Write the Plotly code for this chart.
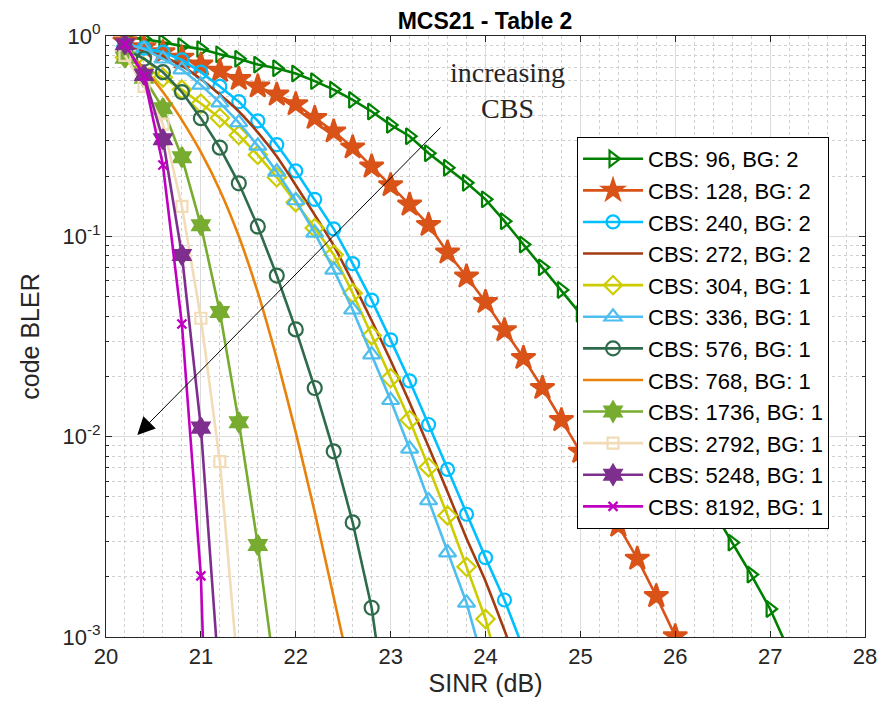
import math
import plotly.graph_objects as go

# ---------------- data ----------------
sinr = [20.2, 20.4, 20.6, 20.8, 21.0, 21.2, 21.4, 21.6, 21.8, 22.0,
        22.2, 22.4, 22.6, 22.8, 23.0, 23.2, 23.4, 23.6, 23.8, 24.0,
        24.2, 24.4, 24.6, 24.8, 25.0, 25.2, 25.4, 25.6, 25.8, 26.0,
        26.2, 26.4, 26.6, 26.8, 27.0, 27.2]

labels = ["CBS: 96, BG: 2", "CBS: 128, BG: 2", "CBS: 240, BG: 2", "CBS: 272, BG: 2",
          "CBS: 304, BG: 1", "CBS: 336, BG: 1", "CBS: 576, BG: 1", "CBS: 768, BG: 1",
          "CBS: 1736, BG: 1", "CBS: 2792, BG: 1", "CBS: 5248, BG: 1", "CBS: 8192, BG: 1"]

bler_96 = [0.99, 0.965, 0.93, 0.89, 0.86, 0.81, 0.77, 0.72, 0.69, 0.65,
           0.595, 0.54, 0.48, 0.42, 0.36, 0.316, 0.26, 0.22, 0.185, 0.153,
           0.119, 0.091, 0.070, 0.054, 0.041, 0.0308, 0.0228, 0.0167, 0.0121, 0.00865,
           0.00612, 0.00428, 0.00296, 0.00205, 0.00138, 0.00085]
bler_128 = [0.94, 0.88, 0.83, 0.78, 0.72, 0.67, 0.61, 0.56, 0.51, 0.457,
            0.39, 0.334, 0.278, 0.223, 0.18, 0.144, 0.114, 0.083, 0.063, 0.047,
            0.034, 0.0247, 0.0175, 0.0121, 0.0084, 0.0055, 0.0036, 0.00246, 0.0016, 0.00101]
bler_240 = [0.91, 0.87, 0.83, 0.76, 0.66, 0.56, 0.47, 0.377, 0.287, 0.212,
            0.153, 0.109, 0.073, 0.048, 0.0304, 0.019, 0.0115, 0.00686, 0.0041, 0.00249,
            0.00153, 0.00087]
bler_272 = [0.89, 0.85, 0.79, 0.71, 0.61, 0.51, 0.42, 0.33, 0.25, 0.18,
            0.128, 0.09, 0.059, 0.038, 0.024, 0.0148, 0.0089, 0.0053, 0.0031, 0.0019,
            0.00108, 0.0006]
bler_304 = [0.78, 0.70, 0.62, 0.54, 0.46, 0.39, 0.32, 0.255, 0.197, 0.148,
            0.11, 0.081, 0.052, 0.032, 0.0196, 0.0121, 0.00703, 0.00404, 0.00224, 0.00123,
            0.00054]
bler_336 = [0.92, 0.86, 0.77, 0.68, 0.57, 0.465, 0.37, 0.283, 0.21, 0.151,
            0.104, 0.068, 0.043, 0.0257, 0.0152, 0.0087, 0.0048, 0.00264, 0.00148, 0.00068]
bler_576 = [0.86, 0.77, 0.66, 0.525, 0.389, 0.277, 0.184, 0.112, 0.0637, 0.0343,
            0.0175, 0.00845, 0.00373, 0.0014, 0.0003]
bler_768 = [0.85, 0.69, 0.525, 0.38, 0.263, 0.17, 0.10, 0.0525, 0.0245, 0.0105,
            0.0042, 0.00158, 0.00059]
bler_1736 = [0.78, 0.62, 0.436, 0.248, 0.1135, 0.0419, 0.0118, 0.00288, 0.00056]
bler_2792 = [0.80, 0.56, 0.363, 0.141, 0.039, 0.0075, 0.0006]
bler_5248 = [0.91, 0.64, 0.305, 0.0807, 0.0111, 0.00055]
bler_8192 = [0.91, 0.63, 0.227, 0.0365, 0.00202, 0.000002]

series = [bler_96, bler_128, bler_240, bler_272, bler_304, bler_336,
          bler_576, bler_768, bler_1736, bler_2792, bler_5248, bler_8192]

# ---------------- styles ----------------
colors = ["#008000", "#D95319", "#00BFFF", "#A33B12", "#CCCC00", "#4DBEEE",
          "#2E6B4B", "#E8820C", "#77AC30", "#F2DCB8", "#7E2F8E", "#C000C0"]
symbols = ["triangle-right-open", "star", "circle-open", None, "diamond-open",
           "triangle-up-open", "circle-open", None, "hexagram", "square-open",
           "hexagram", "x-thin"]
msizes = [14, 18, 13, 0, 14, 15, 14, 0, 15, 11, 15, 9]

fig = go.Figure()
for i, (lab, vals) in enumerate(zip(labels, series)):
    sym = symbols[i]
    xs = sinr[:len(vals)]
    if sym is None:
        fig.add_trace(go.Scatter(x=xs, y=vals, name=lab, mode="lines",
                                 line=dict(color=colors[i], width=2.6, shape="spline", smoothing=0.5)))
    else:
        mk = dict(symbol=sym, size=msizes[i], color=colors[i],
                  line=dict(color=colors[i], width=2.4 if sym == "x-thin" else 2.2))
        fig.add_trace(go.Scatter(x=xs, y=vals, name=lab, mode="lines+markers",
                                 line=dict(color=colors[i], width=2.6), marker=mk))

axis_col = "#262626"
font_fam = "Liberation Sans, Arial, Helvetica, sans-serif"

ytickvals = [1e-3, 1e-2, 1e-1, 1]
yticktext = ["10<sup>-3</sup>", "10<sup>-2</sup>", "10<sup>-1</sup>", "10<sup>0</sup>"]
yminor = [m * 10.0 ** e for e in (-3, -2, -1) for m in range(2, 10)]

# the page adds an 8 px body margin, so the figure is 8 px smaller and margins shifted
fig.update_layout(
    width=879, height=705,
    margin=dict(l=98, r=22, t=28, b=76),
    paper_bgcolor="white", plot_bgcolor="white",
    font=dict(family=font_fam, color=axis_col, size=21),
    title=dict(text="<b>MCS21 - Table 2</b>", x=0.5427, xanchor="center",
               y=0.982, yanchor="middle", font=dict(size=23, color="black")),
    xaxis=dict(range=[20, 28], tickmode="linear", tick0=20, dtick=1, automargin=False,
               showline=True, mirror="allticks", linecolor=axis_col, linewidth=1,
               ticks="inside", ticklen=6, tickcolor=axis_col,
               showgrid=True, gridcolor="#DCDCDC", gridwidth=1, zeroline=False,
               minor=dict(dtick=0.2, showgrid=True, gridcolor="#D0D0D0",
                          griddash="dot", ticks=""),
               title=dict(text="SINR (dB)", font=dict(size=25), standoff=5),
               tickfont=dict(size=22)),
    yaxis=dict(type="log", range=[-3, 0], tickmode="array", automargin=False,
               tickvals=ytickvals, ticktext=yticktext,
               showline=True, mirror="allticks", linecolor=axis_col, linewidth=1,
               ticks="inside", ticklen=6, tickcolor=axis_col,
               showgrid=True, gridcolor="#DCDCDC", gridwidth=1, zeroline=False,
               minor=dict(tickmode="array", tickvals=yminor, showgrid=True,
                          gridcolor="#D0D0D0", griddash="dot",
                          ticks="inside", ticklen=3, tickcolor=axis_col),
               title=dict(text="code BLER", font=dict(size=25), standoff=15),
               tickfont=dict(size=22)),
    legend=dict(x=0.6206, y=0.832, xanchor="left", yanchor="top",
                bgcolor="white", bordercolor="black", borderwidth=1,
                font=dict(size=22, color="black", family=font_fam),
                tracegroupgap=0, itemwidth=60),
    showlegend=True,
)

# annotation text and arrow
fig.add_annotation(x=24.23, y=math.log10(0.535), xref="x", yref="y",
                   text="increasing<br>CBS", showarrow=False,
                   font=dict(family="Liberation Serif, DejaVu Serif, serif", size=28, color="#262626"),
                   align="center")
fig.add_annotation(x=20.33, y=math.log10(0.0102), xref="x", yref="y",
                   ax=23.54, ay=math.log10(0.355), axref="x", ayref="y",
                   text="", showarrow=True, arrowhead=2, arrowsize=3.5,
                   arrowwidth=1, arrowcolor="black")

fig.write_html("out.html")
